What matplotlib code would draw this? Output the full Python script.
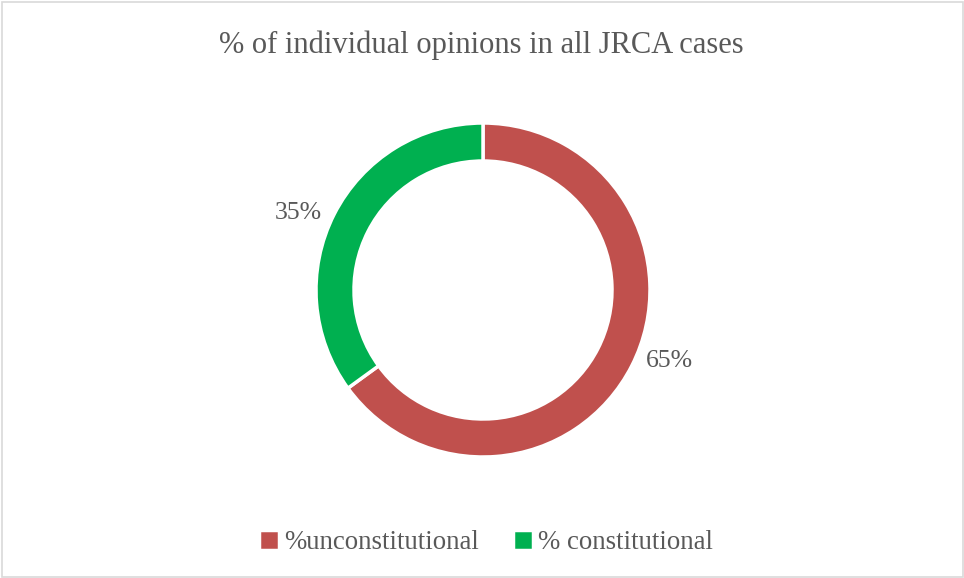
import matplotlib.pyplot as plt
from matplotlib.patches import Rectangle

title = "% of individual opinions in all JRCA cases"
labels = ["%unconstitutional", "% constitutional"]
shares = [65, 35]
colors = ["#C0504D", "#00B050"]

text_color = "#595959"
font = "Liberation Serif"

fig = plt.figure(figsize=(9.64, 5.78), dpi=100)
ax = fig.add_axes([0, 0, 1, 1])

# donut, drawn in pixel-sized data units
wedges, _ = ax.pie(
    shares,
    colors=colors,
    startangle=90,
    counterclock=False,
    center=(483, 288),
    radius=167,
    wedgeprops=dict(width=38, edgecolor="white", linewidth=2.5),
)
ax.set_xlim(0, 964)
ax.set_ylim(0, 578)
ax.set_aspect("equal")
ax.axis("off")

# value labels just outside the ring
ax.text(669, 217, f"{shares[0]}%", ha="center", va="center",
        fontsize=18.5, color=text_color, family=font)
ax.text(298, 365, f"{shares[1]}%", ha="center", va="center",
        fontsize=18.5, color=text_color, family=font)

ax.text(481, 533, title, ha="center", va="center",
        fontsize=22, color=text_color, family=font)

leg = ax.legend(
    wedges, labels, loc="center", bbox_to_anchor=(0.504, 0.061),
    ncol=2, frameon=False, handlelength=0.75, handleheight=0.75,
    handletextpad=0.2, columnspacing=1.25,
    prop=dict(family=font, size=19.3),
)
for t in leg.get_texts():
    t.set_color(text_color)

# thin chart-area border
fig.patches.append(Rectangle((1.5 / 964, 1.5 / 578), 1 - 3 / 964, 1 - 3 / 578,
                             transform=fig.transFigure, fill=False,
                             edgecolor="#D9D9D9", linewidth=1.2))

fig.savefig("out.png", dpi=100)
